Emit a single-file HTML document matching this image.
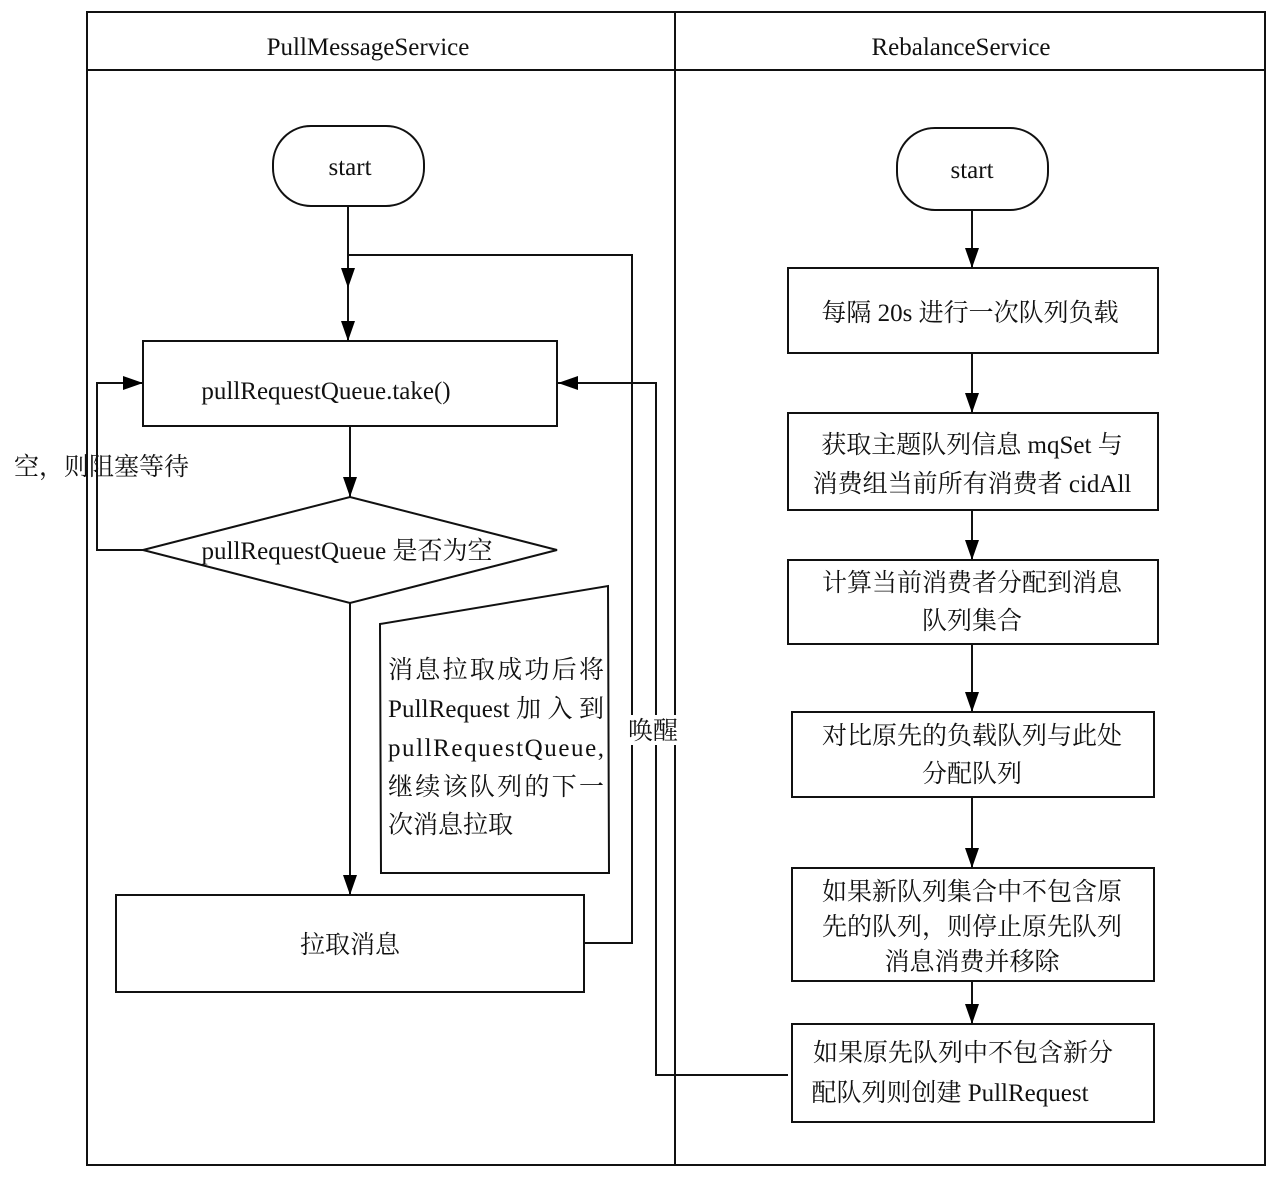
<!DOCTYPE html>
<html><head><meta charset="utf-8"><style>
body{margin:0;background:#fff}
svg text{font-family:"Liberation Serif","Noto Serif CJK SC",serif;font-size:25px;fill:#111}
</style></head><body>
<svg width="1280" height="1173" viewBox="0 0 1280 1173" xmlns="http://www.w3.org/2000/svg">
<defs><marker id="a" markerWidth="20" markerHeight="14" refX="20" refY="7" orient="auto" markerUnits="userSpaceOnUse"><path d="M0,0 L20,7 L0,14 z" fill="#000"/></marker></defs>
<g fill="none" stroke="#111" stroke-width="2">
<rect x="87" y="12" width="1178" height="1153"/>
<line x1="87" y1="70" x2="1265" y2="70"/>
<line x1="675" y1="12" x2="675" y2="1165"/>
<rect x="273" y="126" width="151" height="80" rx="38"/>
<rect x="143" y="341" width="414" height="85"/>
<polygon points="143,550 350,497 557,550 350,603"/>
<polygon points="380,624 608,586 609,873 381,873"/>
<rect x="116" y="895" width="468" height="97"/>
<line x1="348" y1="206" x2="348" y2="341" marker-end="url(#a)"/>
<line x1="348" y1="206" x2="348" y2="288" marker-end="url(#a)"/>
<polyline points="584,943 632,943 632,255 348,255"/>
<line x1="350" y1="426" x2="350" y2="497" marker-end="url(#a)"/>
<polyline points="143,550 97,550 97,383 143,383" marker-end="url(#a)"/>
<line x1="350" y1="603" x2="350" y2="895" marker-end="url(#a)"/>
<polyline points="788,1075 656,1075 656,383 558,383" marker-end="url(#a)"/>
<rect x="897" y="128" width="151" height="82" rx="38"/>
<rect x="788" y="268" width="370" height="85"/>
<rect x="788" y="413" width="370" height="97"/>
<rect x="788" y="560" width="370" height="84"/>
<rect x="792" y="712" width="362" height="85"/>
<rect x="792" y="868" width="362" height="113"/>
<rect x="792" y="1024" width="362" height="98"/>
<line x1="972" y1="210" x2="972" y2="268" marker-end="url(#a)"/>
<line x1="972" y1="353" x2="972" y2="413" marker-end="url(#a)"/>
<line x1="972" y1="510" x2="972" y2="560" marker-end="url(#a)"/>
<line x1="972" y1="644" x2="972" y2="712" marker-end="url(#a)"/>
<line x1="972" y1="797" x2="972" y2="868" marker-end="url(#a)"/>
<line x1="972" y1="981" x2="972" y2="1024" marker-end="url(#a)"/>
</g>
<rect x="626" y="715" width="52" height="30" fill="#fff"/>
<g text-anchor="middle">
<text x="368" y="55">PullMessageService</text>
<text x="961" y="55">RebalanceService</text>
<text x="350" y="175">start</text>
<text x="972" y="178">start</text>
<text x="326" y="399">pullRequestQueue.take()</text>
<text x="347" y="559">pullRequestQueue 是否为空</text>
<text x="350" y="953">拉取消息</text>
<text x="970" y="321">每隔 20s 进行一次队列负载</text>
<text x="972" y="453">获取主题队列信息 mqSet 与</text>
<text x="972" y="492">消费组当前所有消费者 cidAll</text>
<text x="972" y="591">计算当前消费者分配到消息</text>
<text x="972" y="629">队列集合</text>
<text x="972" y="744">对比原先的负载队列与此处</text>
<text x="972" y="782">分配队列</text>
<text x="972" y="900">如果新队列集合中不包含原</text>
<text x="972" y="935">先的队列，则停止原先队列</text>
<text x="972" y="970">消息消费并移除</text>
<text x="963" y="1061">如果原先队列中不包含新分</text>
<text x="950" y="1101">配队列则创建 PullRequest</text>
</g>
<text x="14" y="475">空，则阻塞等待</text>
<text x="628" y="739">唤醒</text>
<g>
<text x="388" y="678" textLength="216" lengthAdjust="spacing">消息拉取成功后将</text>
<text x="388" y="717" textLength="216" lengthAdjust="spacing">PullRequest 加 入 到</text>
<text x="388" y="756" textLength="216" lengthAdjust="spacing">pullRequestQueue,</text>
<text x="388" y="795" textLength="216" lengthAdjust="spacing">继续该队列的下一</text>
<text x="388" y="833">次消息拉取</text>
</g>
</svg>
</body></html>
